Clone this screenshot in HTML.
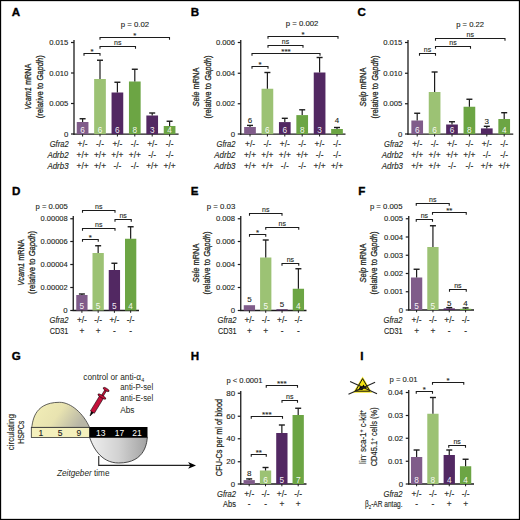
<!DOCTYPE html><html><head><meta charset="utf-8"><style>html,body{margin:0;padding:0;background:#fff;}svg{display:block;font-family:"Liberation Sans", sans-serif;}</style></head><body><svg width="520" height="520" viewBox="0 0 520 520" font-family='"Liberation Sans", sans-serif'>
<rect x="0" y="0" width="520" height="520" fill="#fff"/>
<rect x="0.5" y="0.5" width="519" height="519" fill="none" stroke="#000" stroke-width="1.3"/>
<text x="11.8" y="16.3" font-size="11.6" font-weight="bold" fill="#000" stroke="#000" stroke-width="0.35">A</text>
<text x="190.8" y="16.3" font-size="11.6" font-weight="bold" fill="#000" stroke="#000" stroke-width="0.35">B</text>
<text x="357.6" y="16.3" font-size="11.6" font-weight="bold" fill="#000" stroke="#000" stroke-width="0.35">C</text>
<text x="12" y="195.3" font-size="11.6" font-weight="bold" fill="#000" stroke="#000" stroke-width="0.35">D</text>
<text x="190.8" y="195.3" font-size="11.6" font-weight="bold" fill="#000" stroke="#000" stroke-width="0.35">E</text>
<text x="358.3" y="195.3" font-size="11.6" font-weight="bold" fill="#000" stroke="#000" stroke-width="0.35">F</text>
<text x="11.8" y="360.2" font-size="11.6" font-weight="bold" fill="#000" stroke="#000" stroke-width="0.35">G</text>
<text x="190.8" y="360.2" font-size="11.6" font-weight="bold" fill="#000" stroke="#000" stroke-width="0.35">H</text>
<text x="360.3" y="360.2" font-size="11.6" font-weight="bold" fill="#000" stroke="#000" stroke-width="0.35">I</text>
<line x1="74" y1="40" x2="74" y2="134.8" stroke="#1c1c1c" stroke-width="1.3"/>
<line x1="73.4" y1="134.2" x2="178.6" y2="134.2" stroke="#1c1c1c" stroke-width="1.3"/>
<line x1="71" y1="42.5" x2="74" y2="42.5" stroke="#1c1c1c" stroke-width="1.2"/>
<text x="68.4" y="45.05" font-size="7.8" text-anchor="end" fill="#231f20" stroke="#231f20" stroke-width="0.12" textLength="19.2" lengthAdjust="spacingAndGlyphs">0.015</text>
<line x1="71" y1="73" x2="74" y2="73" stroke="#1c1c1c" stroke-width="1.2"/>
<text x="68.4" y="75.55" font-size="7.8" text-anchor="end" fill="#231f20" stroke="#231f20" stroke-width="0.12" textLength="19.2" lengthAdjust="spacingAndGlyphs">0.010</text>
<line x1="71" y1="103.5" x2="74" y2="103.5" stroke="#1c1c1c" stroke-width="1.2"/>
<text x="68.4" y="106.05" font-size="7.8" text-anchor="end" fill="#231f20" stroke="#231f20" stroke-width="0.12" textLength="19.2" lengthAdjust="spacingAndGlyphs">0.005</text>
<line x1="71" y1="134" x2="74" y2="134" stroke="#1c1c1c" stroke-width="1.2"/>
<text x="68.4" y="136.55" font-size="7.8" text-anchor="end" fill="#231f20" stroke="#231f20" stroke-width="0.12">0</text>
<rect x="76.75" y="122" width="11.7" height="12.2" fill="#805c8a"/>
<line x1="82.6" y1="118.75" x2="82.6" y2="122" stroke="#1c1c1c" stroke-width="1.2"/>
<line x1="79.6" y1="118.75" x2="85.6" y2="118.75" stroke="#1c1c1c" stroke-width="1.4"/>
<line x1="82.6" y1="134.2" x2="82.6" y2="136.5" stroke="#1c1c1c" stroke-width="1.0"/>
<text x="82.6" y="132.7" font-size="8.3" text-anchor="middle" fill="#ffffff" fill-opacity="0.93">6</text>
<rect x="94.15" y="79" width="11.7" height="55.2" fill="#9cc274"/>
<line x1="100.0" y1="60.25" x2="100.0" y2="79" stroke="#1c1c1c" stroke-width="1.2"/>
<line x1="97.0" y1="60.25" x2="103.0" y2="60.25" stroke="#1c1c1c" stroke-width="1.4"/>
<line x1="100.0" y1="134.2" x2="100.0" y2="136.5" stroke="#1c1c1c" stroke-width="1.0"/>
<text x="100.0" y="132.7" font-size="8.3" text-anchor="middle" fill="#ffffff" fill-opacity="0.93">6</text>
<rect x="111.55" y="92.5" width="11.7" height="41.7" fill="#522862"/>
<line x1="117.4" y1="82.25" x2="117.4" y2="92.5" stroke="#1c1c1c" stroke-width="1.2"/>
<line x1="114.4" y1="82.25" x2="120.4" y2="82.25" stroke="#1c1c1c" stroke-width="1.4"/>
<line x1="117.4" y1="134.2" x2="117.4" y2="136.5" stroke="#1c1c1c" stroke-width="1.0"/>
<text x="117.4" y="132.7" font-size="8.3" text-anchor="middle" fill="#ffffff" fill-opacity="0.93">6</text>
<rect x="128.95" y="81.5" width="11.7" height="52.7" fill="#6ca544"/>
<line x1="134.8" y1="69.25" x2="134.8" y2="81.5" stroke="#1c1c1c" stroke-width="1.2"/>
<line x1="131.8" y1="69.25" x2="137.8" y2="69.25" stroke="#1c1c1c" stroke-width="1.4"/>
<line x1="134.8" y1="134.2" x2="134.8" y2="136.5" stroke="#1c1c1c" stroke-width="1.0"/>
<text x="134.8" y="132.7" font-size="8.3" text-anchor="middle" fill="#ffffff" fill-opacity="0.93">8</text>
<rect x="146.35" y="115.5" width="11.7" height="18.7" fill="#522862"/>
<line x1="152.2" y1="113" x2="152.2" y2="115.5" stroke="#1c1c1c" stroke-width="1.2"/>
<line x1="149.2" y1="113" x2="155.2" y2="113" stroke="#1c1c1c" stroke-width="1.4"/>
<line x1="152.2" y1="134.2" x2="152.2" y2="136.5" stroke="#1c1c1c" stroke-width="1.0"/>
<text x="152.2" y="132.7" font-size="8.3" text-anchor="middle" fill="#ffffff" fill-opacity="0.93">3</text>
<rect x="163.75" y="126" width="11.7" height="8.2" fill="#6ca544"/>
<line x1="169.6" y1="121.25" x2="169.6" y2="126" stroke="#1c1c1c" stroke-width="1.2"/>
<line x1="166.6" y1="121.25" x2="172.6" y2="121.25" stroke="#1c1c1c" stroke-width="1.4"/>
<line x1="169.6" y1="134.2" x2="169.6" y2="136.5" stroke="#1c1c1c" stroke-width="1.0"/>
<text x="169.6" y="132.7" font-size="8.3" text-anchor="middle" fill="#ffffff" fill-opacity="0.93">4</text>
<path d="M84 55.8 V53.5 H100 V55.8" fill="none" stroke="#1c1c1c" stroke-width="1.1"/>
<text x="92.0" y="53.7" font-size="7.9" text-anchor="middle" fill="#231f20" stroke="#231f20" stroke-width="0.12">*</text>
<path d="M100 48.8 V46.5 H135.5 V48.8" fill="none" stroke="#1c1c1c" stroke-width="1.1"/>
<text x="117.75" y="44.5" font-size="7.6" text-anchor="middle" fill="#231f20" stroke="#231f20" stroke-width="0.12" textLength="7.4" lengthAdjust="spacingAndGlyphs">ns</text>
<path d="M100 39.8 V37.5 H169.5 V39.8" fill="none" stroke="#1c1c1c" stroke-width="1.1"/>
<text x="134.75" y="37.7" font-size="7.9" text-anchor="middle" fill="#231f20" stroke="#231f20" stroke-width="0.12">*</text>
<text x="120.7" y="27.3" font-size="7.8" text-anchor="start" fill="#231f20" stroke="#231f20" stroke-width="0.12" textLength="28.4" lengthAdjust="spacingAndGlyphs">p = 0.02</text>
<text x="68.6" y="146.9" font-size="8.4" text-anchor="end" font-style="italic" fill="#231f20" stroke="#231f20" stroke-width="0.12" textLength="18.9" lengthAdjust="spacingAndGlyphs">Gfra2</text>
<text x="68.6" y="157.7" font-size="8.4" text-anchor="end" font-style="italic" fill="#231f20" stroke="#231f20" stroke-width="0.12" textLength="21.2" lengthAdjust="spacingAndGlyphs">Adrb2</text>
<text x="68.6" y="168.8" font-size="8.4" text-anchor="end" font-style="italic" fill="#231f20" stroke="#231f20" stroke-width="0.12" textLength="21.2" lengthAdjust="spacingAndGlyphs">Adrb3</text>
<text x="82.6" y="146.9" font-size="8.4" text-anchor="middle" fill="#231f20" stroke="#231f20" stroke-width="0.12">+/-</text>
<text x="100.0" y="146.9" font-size="8.4" text-anchor="middle" fill="#231f20" stroke="#231f20" stroke-width="0.12">-/-</text>
<text x="117.4" y="146.9" font-size="8.4" text-anchor="middle" fill="#231f20" stroke="#231f20" stroke-width="0.12">+/-</text>
<text x="134.8" y="146.9" font-size="8.4" text-anchor="middle" fill="#231f20" stroke="#231f20" stroke-width="0.12">-/-</text>
<text x="152.2" y="146.9" font-size="8.4" text-anchor="middle" fill="#231f20" stroke="#231f20" stroke-width="0.12">+/-</text>
<text x="169.6" y="146.9" font-size="8.4" text-anchor="middle" fill="#231f20" stroke="#231f20" stroke-width="0.12">-/-</text>
<text x="82.6" y="157.7" font-size="8.4" text-anchor="middle" fill="#231f20" stroke="#231f20" stroke-width="0.12">+/+</text>
<text x="100.0" y="157.7" font-size="8.4" text-anchor="middle" fill="#231f20" stroke="#231f20" stroke-width="0.12">+/+</text>
<text x="117.4" y="157.7" font-size="8.4" text-anchor="middle" fill="#231f20" stroke="#231f20" stroke-width="0.12">+/+</text>
<text x="134.8" y="157.7" font-size="8.4" text-anchor="middle" fill="#231f20" stroke="#231f20" stroke-width="0.12">+/+</text>
<text x="152.2" y="157.7" font-size="8.4" text-anchor="middle" fill="#231f20" stroke="#231f20" stroke-width="0.12">-/-</text>
<text x="169.6" y="157.7" font-size="8.4" text-anchor="middle" fill="#231f20" stroke="#231f20" stroke-width="0.12">-/-</text>
<text x="82.6" y="168.8" font-size="8.4" text-anchor="middle" fill="#231f20" stroke="#231f20" stroke-width="0.12">+/+</text>
<text x="100.0" y="168.8" font-size="8.4" text-anchor="middle" fill="#231f20" stroke="#231f20" stroke-width="0.12">+/+</text>
<text x="117.4" y="168.8" font-size="8.4" text-anchor="middle" fill="#231f20" stroke="#231f20" stroke-width="0.12">-/-</text>
<text x="134.8" y="168.8" font-size="8.4" text-anchor="middle" fill="#231f20" stroke="#231f20" stroke-width="0.12">-/-</text>
<text x="152.2" y="168.8" font-size="8.4" text-anchor="middle" fill="#231f20" stroke="#231f20" stroke-width="0.12">+/+</text>
<text x="169.6" y="168.8" font-size="8.4" text-anchor="middle" fill="#231f20" stroke="#231f20" stroke-width="0.12">+/+</text>
<text transform="translate(31.3,86.7) rotate(-90)" font-size="9.8" text-anchor="middle" fill="#231f20" stroke="#231f20" stroke-width="0.28" letter-spacing="0" textLength="46.3" lengthAdjust="spacingAndGlyphs"><tspan font-style="italic">Vcam1</tspan> mRNA</text>
<text transform="translate(43.1,86.7) rotate(-90)" font-size="9.8" text-anchor="middle" fill="#231f20" stroke="#231f20" stroke-width="0.28" letter-spacing="0" textLength="63" lengthAdjust="spacingAndGlyphs">(relative to <tspan font-style="italic">Gapdh</tspan>)</text>
<line x1="240.75" y1="40" x2="240.75" y2="134.8" stroke="#1c1c1c" stroke-width="1.3"/>
<line x1="240.15" y1="134.2" x2="345.5" y2="134.2" stroke="#1c1c1c" stroke-width="1.3"/>
<line x1="237.75" y1="42.5" x2="240.75" y2="42.5" stroke="#1c1c1c" stroke-width="1.2"/>
<text x="235.15" y="45.05" font-size="7.8" text-anchor="end" fill="#231f20" stroke="#231f20" stroke-width="0.12" textLength="19.2" lengthAdjust="spacingAndGlyphs">0.006</text>
<line x1="237.75" y1="73.25" x2="240.75" y2="73.25" stroke="#1c1c1c" stroke-width="1.2"/>
<text x="235.15" y="75.8" font-size="7.8" text-anchor="end" fill="#231f20" stroke="#231f20" stroke-width="0.12" textLength="19.2" lengthAdjust="spacingAndGlyphs">0.004</text>
<line x1="237.75" y1="103.75" x2="240.75" y2="103.75" stroke="#1c1c1c" stroke-width="1.2"/>
<text x="235.15" y="106.3" font-size="7.8" text-anchor="end" fill="#231f20" stroke="#231f20" stroke-width="0.12" textLength="19.2" lengthAdjust="spacingAndGlyphs">0.002</text>
<line x1="237.75" y1="134" x2="240.75" y2="134" stroke="#1c1c1c" stroke-width="1.2"/>
<text x="235.15" y="136.55" font-size="7.8" text-anchor="end" fill="#231f20" stroke="#231f20" stroke-width="0.12">0</text>
<rect x="244.15" y="127" width="11.7" height="7.2" fill="#805c8a"/>
<line x1="250.0" y1="125.4" x2="250.0" y2="127" stroke="#1c1c1c" stroke-width="1.2"/>
<line x1="247.0" y1="125.4" x2="253.0" y2="125.4" stroke="#1c1c1c" stroke-width="1.4"/>
<line x1="250.0" y1="134.2" x2="250.0" y2="136.5" stroke="#1c1c1c" stroke-width="1.0"/>
<text x="250.0" y="122.7" font-size="8.0" text-anchor="middle" fill="#231f20" stroke="#231f20" stroke-width="0.12">6</text>
<rect x="261.55" y="88.75" width="11.7" height="45.45" fill="#9cc274"/>
<line x1="267.4" y1="72.5" x2="267.4" y2="88.75" stroke="#1c1c1c" stroke-width="1.2"/>
<line x1="264.4" y1="72.5" x2="270.4" y2="72.5" stroke="#1c1c1c" stroke-width="1.4"/>
<line x1="267.4" y1="134.2" x2="267.4" y2="136.5" stroke="#1c1c1c" stroke-width="1.0"/>
<text x="267.4" y="132.7" font-size="8.3" text-anchor="middle" fill="#ffffff" fill-opacity="0.93">6</text>
<rect x="278.95" y="122.1" width="11.7" height="12.1" fill="#522862"/>
<line x1="284.8" y1="118.3" x2="284.8" y2="122.1" stroke="#1c1c1c" stroke-width="1.2"/>
<line x1="281.8" y1="118.3" x2="287.8" y2="118.3" stroke="#1c1c1c" stroke-width="1.4"/>
<line x1="284.8" y1="134.2" x2="284.8" y2="136.5" stroke="#1c1c1c" stroke-width="1.0"/>
<text x="284.8" y="132.7" font-size="8.3" text-anchor="middle" fill="#ffffff" fill-opacity="0.93">6</text>
<rect x="296.35" y="115.1" width="11.7" height="19.1" fill="#6ca544"/>
<line x1="302.2" y1="109.8" x2="302.2" y2="115.1" stroke="#1c1c1c" stroke-width="1.2"/>
<line x1="299.2" y1="109.8" x2="305.2" y2="109.8" stroke="#1c1c1c" stroke-width="1.4"/>
<line x1="302.2" y1="134.2" x2="302.2" y2="136.5" stroke="#1c1c1c" stroke-width="1.0"/>
<text x="302.2" y="132.7" font-size="8.3" text-anchor="middle" fill="#ffffff" fill-opacity="0.93">8</text>
<rect x="313.75" y="72.5" width="11.7" height="61.7" fill="#522862"/>
<line x1="319.6" y1="57.5" x2="319.6" y2="72.5" stroke="#1c1c1c" stroke-width="1.2"/>
<line x1="316.6" y1="57.5" x2="322.6" y2="57.5" stroke="#1c1c1c" stroke-width="1.4"/>
<line x1="319.6" y1="134.2" x2="319.6" y2="136.5" stroke="#1c1c1c" stroke-width="1.0"/>
<text x="319.6" y="132.7" font-size="8.3" text-anchor="middle" fill="#ffffff" fill-opacity="0.93">3</text>
<rect x="331.15" y="129" width="11.7" height="5.2" fill="#6ca544"/>
<line x1="337.0" y1="127.5" x2="337.0" y2="129" stroke="#1c1c1c" stroke-width="1.2"/>
<line x1="334.0" y1="127.5" x2="340.0" y2="127.5" stroke="#1c1c1c" stroke-width="1.4"/>
<line x1="337.0" y1="134.2" x2="337.0" y2="136.5" stroke="#1c1c1c" stroke-width="1.0"/>
<text x="337.0" y="122.7" font-size="8.0" text-anchor="middle" fill="#231f20" stroke="#231f20" stroke-width="0.12">4</text>
<path d="M252 68.8 V66.5 H268 V68.8" fill="none" stroke="#1c1c1c" stroke-width="1.1"/>
<text x="260.0" y="66.7" font-size="7.9" text-anchor="middle" fill="#231f20" stroke="#231f20" stroke-width="0.12">*</text>
<path d="M252 55.8 V53.5 H320 V55.8" fill="none" stroke="#1c1c1c" stroke-width="1.1"/>
<text x="286.0" y="53.7" font-size="7.9" text-anchor="middle" fill="#231f20" stroke="#231f20" stroke-width="0.12" textLength="9.6" lengthAdjust="spacingAndGlyphs">***</text>
<path d="M268 47.8 V45.5 H303 V47.8" fill="none" stroke="#1c1c1c" stroke-width="1.1"/>
<text x="285.5" y="43.5" font-size="7.6" text-anchor="middle" fill="#231f20" stroke="#231f20" stroke-width="0.12" textLength="7.4" lengthAdjust="spacingAndGlyphs">ns</text>
<path d="M268 38.8 V36.5 H338 V38.8" fill="none" stroke="#1c1c1c" stroke-width="1.1"/>
<text x="303.0" y="36.7" font-size="7.9" text-anchor="middle" fill="#231f20" stroke="#231f20" stroke-width="0.12">*</text>
<text x="285.8" y="25.8" font-size="7.8" text-anchor="start" fill="#231f20" stroke="#231f20" stroke-width="0.12" textLength="32.6" lengthAdjust="spacingAndGlyphs">p = 0.002</text>
<text x="235.5" y="146.9" font-size="8.4" text-anchor="end" font-style="italic" fill="#231f20" stroke="#231f20" stroke-width="0.12" textLength="18.9" lengthAdjust="spacingAndGlyphs">Gfra2</text>
<text x="235.5" y="157.7" font-size="8.4" text-anchor="end" font-style="italic" fill="#231f20" stroke="#231f20" stroke-width="0.12" textLength="21.2" lengthAdjust="spacingAndGlyphs">Adrb2</text>
<text x="235.5" y="168.8" font-size="8.4" text-anchor="end" font-style="italic" fill="#231f20" stroke="#231f20" stroke-width="0.12" textLength="21.2" lengthAdjust="spacingAndGlyphs">Adrb3</text>
<text x="250.0" y="146.9" font-size="8.4" text-anchor="middle" fill="#231f20" stroke="#231f20" stroke-width="0.12">+/-</text>
<text x="267.4" y="146.9" font-size="8.4" text-anchor="middle" fill="#231f20" stroke="#231f20" stroke-width="0.12">-/-</text>
<text x="284.8" y="146.9" font-size="8.4" text-anchor="middle" fill="#231f20" stroke="#231f20" stroke-width="0.12">+/-</text>
<text x="302.2" y="146.9" font-size="8.4" text-anchor="middle" fill="#231f20" stroke="#231f20" stroke-width="0.12">-/-</text>
<text x="319.6" y="146.9" font-size="8.4" text-anchor="middle" fill="#231f20" stroke="#231f20" stroke-width="0.12">+/-</text>
<text x="337.0" y="146.9" font-size="8.4" text-anchor="middle" fill="#231f20" stroke="#231f20" stroke-width="0.12">-/-</text>
<text x="250.0" y="157.7" font-size="8.4" text-anchor="middle" fill="#231f20" stroke="#231f20" stroke-width="0.12">+/+</text>
<text x="267.4" y="157.7" font-size="8.4" text-anchor="middle" fill="#231f20" stroke="#231f20" stroke-width="0.12">+/+</text>
<text x="284.8" y="157.7" font-size="8.4" text-anchor="middle" fill="#231f20" stroke="#231f20" stroke-width="0.12">+/+</text>
<text x="302.2" y="157.7" font-size="8.4" text-anchor="middle" fill="#231f20" stroke="#231f20" stroke-width="0.12">+/+</text>
<text x="319.6" y="157.7" font-size="8.4" text-anchor="middle" fill="#231f20" stroke="#231f20" stroke-width="0.12">-/-</text>
<text x="337.0" y="157.7" font-size="8.4" text-anchor="middle" fill="#231f20" stroke="#231f20" stroke-width="0.12">-/-</text>
<text x="250.0" y="168.8" font-size="8.4" text-anchor="middle" fill="#231f20" stroke="#231f20" stroke-width="0.12">+/+</text>
<text x="267.4" y="168.8" font-size="8.4" text-anchor="middle" fill="#231f20" stroke="#231f20" stroke-width="0.12">+/+</text>
<text x="284.8" y="168.8" font-size="8.4" text-anchor="middle" fill="#231f20" stroke="#231f20" stroke-width="0.12">-/-</text>
<text x="302.2" y="168.8" font-size="8.4" text-anchor="middle" fill="#231f20" stroke="#231f20" stroke-width="0.12">-/-</text>
<text x="319.6" y="168.8" font-size="8.4" text-anchor="middle" fill="#231f20" stroke="#231f20" stroke-width="0.12">+/+</text>
<text x="337.0" y="168.8" font-size="8.4" text-anchor="middle" fill="#231f20" stroke="#231f20" stroke-width="0.12">+/+</text>
<text transform="translate(199,87) rotate(-90)" font-size="9.8" text-anchor="middle" fill="#231f20" stroke="#231f20" stroke-width="0.28" letter-spacing="0" textLength="38.9" lengthAdjust="spacingAndGlyphs"><tspan font-style="italic">Sele</tspan> mRNA</text>
<text transform="translate(210.5,87) rotate(-90)" font-size="9.8" text-anchor="middle" fill="#231f20" stroke="#231f20" stroke-width="0.28" letter-spacing="0" textLength="63" lengthAdjust="spacingAndGlyphs">(relative to <tspan font-style="italic">Gapdh</tspan>)</text>
<line x1="408" y1="40" x2="408" y2="134.8" stroke="#1c1c1c" stroke-width="1.3"/>
<line x1="407.4" y1="134.2" x2="513.25" y2="134.2" stroke="#1c1c1c" stroke-width="1.3"/>
<line x1="405" y1="42.5" x2="408" y2="42.5" stroke="#1c1c1c" stroke-width="1.2"/>
<text x="402.4" y="45.05" font-size="7.8" text-anchor="end" fill="#231f20" stroke="#231f20" stroke-width="0.12" textLength="19.2" lengthAdjust="spacingAndGlyphs">0.015</text>
<line x1="405" y1="73.25" x2="408" y2="73.25" stroke="#1c1c1c" stroke-width="1.2"/>
<text x="402.4" y="75.8" font-size="7.8" text-anchor="end" fill="#231f20" stroke="#231f20" stroke-width="0.12" textLength="19.2" lengthAdjust="spacingAndGlyphs">0.010</text>
<line x1="405" y1="103.75" x2="408" y2="103.75" stroke="#1c1c1c" stroke-width="1.2"/>
<text x="402.4" y="106.3" font-size="7.8" text-anchor="end" fill="#231f20" stroke="#231f20" stroke-width="0.12" textLength="19.2" lengthAdjust="spacingAndGlyphs">0.005</text>
<line x1="405" y1="134" x2="408" y2="134" stroke="#1c1c1c" stroke-width="1.2"/>
<text x="402.4" y="136.55" font-size="7.8" text-anchor="end" fill="#231f20" stroke="#231f20" stroke-width="0.12">0</text>
<rect x="411.35" y="120.5" width="11.7" height="13.7" fill="#805c8a"/>
<line x1="417.2" y1="113.25" x2="417.2" y2="120.5" stroke="#1c1c1c" stroke-width="1.2"/>
<line x1="414.2" y1="113.25" x2="420.2" y2="113.25" stroke="#1c1c1c" stroke-width="1.4"/>
<line x1="417.2" y1="134.2" x2="417.2" y2="136.5" stroke="#1c1c1c" stroke-width="1.0"/>
<text x="417.2" y="132.7" font-size="8.3" text-anchor="middle" fill="#ffffff" fill-opacity="0.93">6</text>
<rect x="428.75" y="92" width="11.7" height="42.2" fill="#9cc274"/>
<line x1="434.6" y1="72" x2="434.6" y2="92" stroke="#1c1c1c" stroke-width="1.2"/>
<line x1="431.6" y1="72" x2="437.6" y2="72" stroke="#1c1c1c" stroke-width="1.4"/>
<line x1="434.6" y1="134.2" x2="434.6" y2="136.5" stroke="#1c1c1c" stroke-width="1.0"/>
<text x="434.6" y="132.7" font-size="8.3" text-anchor="middle" fill="#ffffff" fill-opacity="0.93">6</text>
<rect x="446.15" y="124.5" width="11.7" height="9.7" fill="#522862"/>
<line x1="452.0" y1="121.75" x2="452.0" y2="124.5" stroke="#1c1c1c" stroke-width="1.2"/>
<line x1="449.0" y1="121.75" x2="455.0" y2="121.75" stroke="#1c1c1c" stroke-width="1.4"/>
<line x1="452.0" y1="134.2" x2="452.0" y2="136.5" stroke="#1c1c1c" stroke-width="1.0"/>
<text x="452.0" y="132.7" font-size="8.3" text-anchor="middle" fill="#ffffff" fill-opacity="0.93">6</text>
<rect x="463.55" y="106.75" width="11.7" height="27.45" fill="#6ca544"/>
<line x1="469.4" y1="99.25" x2="469.4" y2="106.75" stroke="#1c1c1c" stroke-width="1.2"/>
<line x1="466.4" y1="99.25" x2="472.4" y2="99.25" stroke="#1c1c1c" stroke-width="1.4"/>
<line x1="469.4" y1="134.2" x2="469.4" y2="136.5" stroke="#1c1c1c" stroke-width="1.0"/>
<text x="469.4" y="132.7" font-size="8.3" text-anchor="middle" fill="#ffffff" fill-opacity="0.93">8</text>
<rect x="480.95" y="128.4" width="11.7" height="5.8" fill="#522862"/>
<line x1="486.8" y1="126.3" x2="486.8" y2="128.4" stroke="#1c1c1c" stroke-width="1.2"/>
<line x1="483.8" y1="126.3" x2="489.8" y2="126.3" stroke="#1c1c1c" stroke-width="1.4"/>
<line x1="486.8" y1="134.2" x2="486.8" y2="136.5" stroke="#1c1c1c" stroke-width="1.0"/>
<text x="486.8" y="123.5" font-size="8.0" text-anchor="middle" fill="#231f20" stroke="#231f20" stroke-width="0.12">3</text>
<rect x="498.35" y="119" width="11.7" height="15.2" fill="#6ca544"/>
<line x1="504.2" y1="112.7" x2="504.2" y2="119" stroke="#1c1c1c" stroke-width="1.2"/>
<line x1="501.2" y1="112.7" x2="507.2" y2="112.7" stroke="#1c1c1c" stroke-width="1.4"/>
<line x1="504.2" y1="134.2" x2="504.2" y2="136.5" stroke="#1c1c1c" stroke-width="1.0"/>
<text x="504.2" y="132.7" font-size="8.3" text-anchor="middle" fill="#ffffff" fill-opacity="0.93">4</text>
<path d="M419.5 55.8 V53.5 H435.5 V55.8" fill="none" stroke="#1c1c1c" stroke-width="1.1"/>
<text x="427.5" y="51.5" font-size="7.6" text-anchor="middle" fill="#231f20" stroke="#231f20" stroke-width="0.12" textLength="7.4" lengthAdjust="spacingAndGlyphs">ns</text>
<path d="M435.5 48.8 V46.5 H470.5 V48.8" fill="none" stroke="#1c1c1c" stroke-width="1.1"/>
<text x="453.0" y="44.5" font-size="7.6" text-anchor="middle" fill="#231f20" stroke="#231f20" stroke-width="0.12" textLength="7.4" lengthAdjust="spacingAndGlyphs">ns</text>
<path d="M435.5 40.8 V38.5 H505 V40.8" fill="none" stroke="#1c1c1c" stroke-width="1.1"/>
<text x="470.25" y="36.5" font-size="7.6" text-anchor="middle" fill="#231f20" stroke="#231f20" stroke-width="0.12" textLength="7.4" lengthAdjust="spacingAndGlyphs">ns</text>
<text x="456.2" y="27.1" font-size="7.8" text-anchor="start" fill="#231f20" stroke="#231f20" stroke-width="0.12" textLength="27.8" lengthAdjust="spacingAndGlyphs">p = 0.22</text>
<text x="403" y="146.9" font-size="8.4" text-anchor="end" font-style="italic" fill="#231f20" stroke="#231f20" stroke-width="0.12" textLength="18.9" lengthAdjust="spacingAndGlyphs">Gfra2</text>
<text x="403" y="157.7" font-size="8.4" text-anchor="end" font-style="italic" fill="#231f20" stroke="#231f20" stroke-width="0.12" textLength="21.2" lengthAdjust="spacingAndGlyphs">Adrb2</text>
<text x="403" y="168.8" font-size="8.4" text-anchor="end" font-style="italic" fill="#231f20" stroke="#231f20" stroke-width="0.12" textLength="21.2" lengthAdjust="spacingAndGlyphs">Adrb3</text>
<text x="417.2" y="146.9" font-size="8.4" text-anchor="middle" fill="#231f20" stroke="#231f20" stroke-width="0.12">+/-</text>
<text x="434.6" y="146.9" font-size="8.4" text-anchor="middle" fill="#231f20" stroke="#231f20" stroke-width="0.12">-/-</text>
<text x="452.0" y="146.9" font-size="8.4" text-anchor="middle" fill="#231f20" stroke="#231f20" stroke-width="0.12">+/-</text>
<text x="469.4" y="146.9" font-size="8.4" text-anchor="middle" fill="#231f20" stroke="#231f20" stroke-width="0.12">-/-</text>
<text x="486.8" y="146.9" font-size="8.4" text-anchor="middle" fill="#231f20" stroke="#231f20" stroke-width="0.12">+/-</text>
<text x="504.2" y="146.9" font-size="8.4" text-anchor="middle" fill="#231f20" stroke="#231f20" stroke-width="0.12">-/-</text>
<text x="417.2" y="157.7" font-size="8.4" text-anchor="middle" fill="#231f20" stroke="#231f20" stroke-width="0.12">+/+</text>
<text x="434.6" y="157.7" font-size="8.4" text-anchor="middle" fill="#231f20" stroke="#231f20" stroke-width="0.12">+/+</text>
<text x="452.0" y="157.7" font-size="8.4" text-anchor="middle" fill="#231f20" stroke="#231f20" stroke-width="0.12">+/+</text>
<text x="469.4" y="157.7" font-size="8.4" text-anchor="middle" fill="#231f20" stroke="#231f20" stroke-width="0.12">+/+</text>
<text x="486.8" y="157.7" font-size="8.4" text-anchor="middle" fill="#231f20" stroke="#231f20" stroke-width="0.12">-/-</text>
<text x="504.2" y="157.7" font-size="8.4" text-anchor="middle" fill="#231f20" stroke="#231f20" stroke-width="0.12">-/-</text>
<text x="417.2" y="168.8" font-size="8.4" text-anchor="middle" fill="#231f20" stroke="#231f20" stroke-width="0.12">+/+</text>
<text x="434.6" y="168.8" font-size="8.4" text-anchor="middle" fill="#231f20" stroke="#231f20" stroke-width="0.12">+/+</text>
<text x="452.0" y="168.8" font-size="8.4" text-anchor="middle" fill="#231f20" stroke="#231f20" stroke-width="0.12">-/-</text>
<text x="469.4" y="168.8" font-size="8.4" text-anchor="middle" fill="#231f20" stroke="#231f20" stroke-width="0.12">-/-</text>
<text x="486.8" y="168.8" font-size="8.4" text-anchor="middle" fill="#231f20" stroke="#231f20" stroke-width="0.12">+/+</text>
<text x="504.2" y="168.8" font-size="8.4" text-anchor="middle" fill="#231f20" stroke="#231f20" stroke-width="0.12">+/+</text>
<text transform="translate(366.4,87) rotate(-90)" font-size="9.8" text-anchor="middle" fill="#231f20" stroke="#231f20" stroke-width="0.28" letter-spacing="0" textLength="38.9" lengthAdjust="spacingAndGlyphs"><tspan font-style="italic">Selp</tspan> mRNA</text>
<text transform="translate(378,87) rotate(-90)" font-size="9.8" text-anchor="middle" fill="#231f20" stroke="#231f20" stroke-width="0.28" letter-spacing="0" textLength="63" lengthAdjust="spacingAndGlyphs">(relative to <tspan font-style="italic">Gapdh</tspan>)</text>
<line x1="73.25" y1="216" x2="73.25" y2="311.1" stroke="#1c1c1c" stroke-width="1.3"/>
<line x1="72.65" y1="310.5" x2="139" y2="310.5" stroke="#1c1c1c" stroke-width="1.3"/>
<line x1="70.25" y1="218.75" x2="73.25" y2="218.75" stroke="#1c1c1c" stroke-width="1.2"/>
<text x="67.65" y="221.3" font-size="7.8" text-anchor="end" fill="#231f20" stroke="#231f20" stroke-width="0.12" textLength="27.1" lengthAdjust="spacingAndGlyphs">0.00008</text>
<line x1="70.25" y1="241.5" x2="73.25" y2="241.5" stroke="#1c1c1c" stroke-width="1.2"/>
<text x="67.65" y="244.05" font-size="7.8" text-anchor="end" fill="#231f20" stroke="#231f20" stroke-width="0.12" textLength="27.1" lengthAdjust="spacingAndGlyphs">0.00006</text>
<line x1="70.25" y1="264.5" x2="73.25" y2="264.5" stroke="#1c1c1c" stroke-width="1.2"/>
<text x="67.65" y="267.05" font-size="7.8" text-anchor="end" fill="#231f20" stroke="#231f20" stroke-width="0.12" textLength="27.1" lengthAdjust="spacingAndGlyphs">0.00004</text>
<line x1="70.25" y1="287.5" x2="73.25" y2="287.5" stroke="#1c1c1c" stroke-width="1.2"/>
<text x="67.65" y="290.05" font-size="7.8" text-anchor="end" fill="#231f20" stroke="#231f20" stroke-width="0.12" textLength="27.1" lengthAdjust="spacingAndGlyphs">0.00002</text>
<line x1="70.25" y1="310.5" x2="73.25" y2="310.5" stroke="#1c1c1c" stroke-width="1.2"/>
<text x="67.65" y="313.05" font-size="7.8" text-anchor="end" fill="#231f20" stroke="#231f20" stroke-width="0.12">0</text>
<rect x="76.25" y="295" width="11.3" height="15.5" fill="#805c8a"/>
<line x1="81.9" y1="294" x2="81.9" y2="295" stroke="#1c1c1c" stroke-width="1.2"/>
<line x1="78.9" y1="294" x2="84.9" y2="294" stroke="#1c1c1c" stroke-width="1.4"/>
<line x1="81.9" y1="310.5" x2="81.9" y2="312.8" stroke="#1c1c1c" stroke-width="1.0"/>
<text x="81.9" y="309.0" font-size="8.3" text-anchor="middle" fill="#ffffff" fill-opacity="0.93">5</text>
<rect x="92.5" y="253" width="11.3" height="57.5" fill="#9cc274"/>
<line x1="98.15" y1="245.75" x2="98.15" y2="253" stroke="#1c1c1c" stroke-width="1.2"/>
<line x1="95.15" y1="245.75" x2="101.15" y2="245.75" stroke="#1c1c1c" stroke-width="1.4"/>
<line x1="98.15" y1="310.5" x2="98.15" y2="312.8" stroke="#1c1c1c" stroke-width="1.0"/>
<text x="98.15" y="309.0" font-size="8.3" text-anchor="middle" fill="#ffffff" fill-opacity="0.93">5</text>
<rect x="108.75" y="270" width="11.3" height="40.5" fill="#522862"/>
<line x1="114.4" y1="263.25" x2="114.4" y2="270" stroke="#1c1c1c" stroke-width="1.2"/>
<line x1="111.4" y1="263.25" x2="117.4" y2="263.25" stroke="#1c1c1c" stroke-width="1.4"/>
<line x1="114.4" y1="310.5" x2="114.4" y2="312.8" stroke="#1c1c1c" stroke-width="1.0"/>
<text x="114.4" y="309.0" font-size="8.3" text-anchor="middle" fill="#ffffff" fill-opacity="0.93">5</text>
<rect x="125.0" y="238.75" width="11.3" height="71.75" fill="#6ca544"/>
<line x1="130.65" y1="226.75" x2="130.65" y2="238.75" stroke="#1c1c1c" stroke-width="1.2"/>
<line x1="127.65" y1="226.75" x2="133.65" y2="226.75" stroke="#1c1c1c" stroke-width="1.4"/>
<line x1="130.65" y1="310.5" x2="130.65" y2="312.8" stroke="#1c1c1c" stroke-width="1.0"/>
<text x="130.65" y="309.0" font-size="8.3" text-anchor="middle" fill="#ffffff" fill-opacity="0.93">4</text>
<path d="M82.5 241.8 V239.5 H98.25 V241.8" fill="none" stroke="#1c1c1c" stroke-width="1.1"/>
<text x="90.38" y="239.7" font-size="7.9" text-anchor="middle" fill="#231f20" stroke="#231f20" stroke-width="0.12">*</text>
<path d="M82.5 230.8 V228.5 H115 V230.8" fill="none" stroke="#1c1c1c" stroke-width="1.1"/>
<text x="98.75" y="226.5" font-size="7.6" text-anchor="middle" fill="#231f20" stroke="#231f20" stroke-width="0.12" textLength="7.4" lengthAdjust="spacingAndGlyphs">ns</text>
<path d="M115 221.8 V219.5 H131.25 V221.8" fill="none" stroke="#1c1c1c" stroke-width="1.1"/>
<text x="123.12" y="217.5" font-size="7.6" text-anchor="middle" fill="#231f20" stroke="#231f20" stroke-width="0.12" textLength="7.4" lengthAdjust="spacingAndGlyphs">ns</text>
<path d="M82.5 212.8 V210.5 H115 V212.8" fill="none" stroke="#1c1c1c" stroke-width="1.1"/>
<text x="98.75" y="208.5" font-size="7.6" text-anchor="middle" fill="#231f20" stroke="#231f20" stroke-width="0.12" textLength="7.4" lengthAdjust="spacingAndGlyphs">ns</text>
<text x="35.5" y="208.6" font-size="7.8" text-anchor="start" fill="#231f20" stroke="#231f20" stroke-width="0.12" textLength="32.3" lengthAdjust="spacingAndGlyphs">p = 0.005</text>
<text x="68.4" y="323" font-size="8.4" text-anchor="end" font-style="italic" fill="#231f20" stroke="#231f20" stroke-width="0.12" textLength="18.9" lengthAdjust="spacingAndGlyphs">Gfra2</text>
<text x="68.4" y="334" font-size="8.4" text-anchor="end" fill="#231f20" stroke="#231f20" stroke-width="0.12" textLength="18.6" lengthAdjust="spacingAndGlyphs">CD31</text>
<text x="81.9" y="323" font-size="8.4" text-anchor="middle" fill="#231f20" stroke="#231f20" stroke-width="0.12">+/-</text>
<text x="98.15" y="323" font-size="8.4" text-anchor="middle" fill="#231f20" stroke="#231f20" stroke-width="0.12">-/-</text>
<text x="114.4" y="323" font-size="8.4" text-anchor="middle" fill="#231f20" stroke="#231f20" stroke-width="0.12">+/-</text>
<text x="130.65" y="323" font-size="8.4" text-anchor="middle" fill="#231f20" stroke="#231f20" stroke-width="0.12">-/-</text>
<text x="81.9" y="334" font-size="8.4" text-anchor="middle" fill="#231f20" stroke="#231f20" stroke-width="0.12">+</text>
<text x="98.15" y="334" font-size="8.4" text-anchor="middle" fill="#231f20" stroke="#231f20" stroke-width="0.12">+</text>
<text x="114.4" y="334" font-size="8.4" text-anchor="middle" fill="#231f20" stroke="#231f20" stroke-width="0.12">-</text>
<text x="130.65" y="334" font-size="8.4" text-anchor="middle" fill="#231f20" stroke="#231f20" stroke-width="0.12">-</text>
<text transform="translate(23.8,262.5) rotate(-90)" font-size="9.8" text-anchor="middle" fill="#231f20" stroke="#231f20" stroke-width="0.28" letter-spacing="0" textLength="46.3" lengthAdjust="spacingAndGlyphs"><tspan font-style="italic">Vcam1</tspan> mRNA</text>
<text transform="translate(35.0,262.5) rotate(-90)" font-size="9.8" text-anchor="middle" fill="#231f20" stroke="#231f20" stroke-width="0.28" letter-spacing="0" textLength="63" lengthAdjust="spacingAndGlyphs">(relative to <tspan font-style="italic">Gapdh</tspan>)</text>
<line x1="240.75" y1="216" x2="240.75" y2="311.1" stroke="#1c1c1c" stroke-width="1.3"/>
<line x1="240.15" y1="310.5" x2="306.5" y2="310.5" stroke="#1c1c1c" stroke-width="1.3"/>
<line x1="237.75" y1="218.75" x2="240.75" y2="218.75" stroke="#1c1c1c" stroke-width="1.2"/>
<text x="235.15" y="221.3" font-size="7.8" text-anchor="end" fill="#231f20" stroke="#231f20" stroke-width="0.12" textLength="19.2" lengthAdjust="spacingAndGlyphs">0.008</text>
<line x1="237.75" y1="241.5" x2="240.75" y2="241.5" stroke="#1c1c1c" stroke-width="1.2"/>
<text x="235.15" y="244.05" font-size="7.8" text-anchor="end" fill="#231f20" stroke="#231f20" stroke-width="0.12" textLength="19.2" lengthAdjust="spacingAndGlyphs">0.006</text>
<line x1="237.75" y1="264.5" x2="240.75" y2="264.5" stroke="#1c1c1c" stroke-width="1.2"/>
<text x="235.15" y="267.05" font-size="7.8" text-anchor="end" fill="#231f20" stroke="#231f20" stroke-width="0.12" textLength="19.2" lengthAdjust="spacingAndGlyphs">0.004</text>
<line x1="237.75" y1="287.5" x2="240.75" y2="287.5" stroke="#1c1c1c" stroke-width="1.2"/>
<text x="235.15" y="290.05" font-size="7.8" text-anchor="end" fill="#231f20" stroke="#231f20" stroke-width="0.12" textLength="19.2" lengthAdjust="spacingAndGlyphs">0.002</text>
<line x1="237.75" y1="310.5" x2="240.75" y2="310.5" stroke="#1c1c1c" stroke-width="1.2"/>
<text x="235.15" y="313.05" font-size="7.8" text-anchor="end" fill="#231f20" stroke="#231f20" stroke-width="0.12">0</text>
<rect x="243.75" y="305.2" width="11.3" height="5.3" fill="#805c8a"/>
<line x1="249.4" y1="310.5" x2="249.4" y2="312.8" stroke="#1c1c1c" stroke-width="1.0"/>
<text x="249.4" y="301.5" font-size="8.0" text-anchor="middle" fill="#231f20" stroke="#231f20" stroke-width="0.12">5</text>
<rect x="260.08" y="257.5" width="11.3" height="53.0" fill="#9cc274"/>
<line x1="265.73" y1="240" x2="265.73" y2="257.5" stroke="#1c1c1c" stroke-width="1.2"/>
<line x1="262.73" y1="240" x2="268.73" y2="240" stroke="#1c1c1c" stroke-width="1.4"/>
<line x1="265.73" y1="310.5" x2="265.73" y2="312.8" stroke="#1c1c1c" stroke-width="1.0"/>
<text x="265.73" y="309.0" font-size="8.3" text-anchor="middle" fill="#ffffff" fill-opacity="0.93">5</text>
<rect x="276.41" y="309.3" width="11.3" height="1.2" fill="#522862"/>
<line x1="282.06" y1="310.5" x2="282.06" y2="312.8" stroke="#1c1c1c" stroke-width="1.0"/>
<text x="282.06" y="306.8" font-size="8.0" text-anchor="middle" fill="#231f20" stroke="#231f20" stroke-width="0.12">5</text>
<rect x="292.74" y="288.75" width="11.3" height="21.75" fill="#6ca544"/>
<line x1="298.39" y1="268.75" x2="298.39" y2="288.75" stroke="#1c1c1c" stroke-width="1.2"/>
<line x1="295.39" y1="268.75" x2="301.39" y2="268.75" stroke="#1c1c1c" stroke-width="1.4"/>
<line x1="298.39" y1="310.5" x2="298.39" y2="312.8" stroke="#1c1c1c" stroke-width="1.0"/>
<text x="298.39" y="309.0" font-size="8.3" text-anchor="middle" fill="#ffffff" fill-opacity="0.93">4</text>
<path d="M249.5 215.8 V213.5 H282 V215.8" fill="none" stroke="#1c1c1c" stroke-width="1.1"/>
<text x="265.75" y="211.5" font-size="7.6" text-anchor="middle" fill="#231f20" stroke="#231f20" stroke-width="0.12" textLength="7.4" lengthAdjust="spacingAndGlyphs">ns</text>
<path d="M265.75 229.8 V227.5 H298.75 V229.8" fill="none" stroke="#1c1c1c" stroke-width="1.1"/>
<text x="282.25" y="225.5" font-size="7.6" text-anchor="middle" fill="#231f20" stroke="#231f20" stroke-width="0.12" textLength="7.4" lengthAdjust="spacingAndGlyphs">ns</text>
<path d="M249.5 236.8 V234.5 H265.75 V236.8" fill="none" stroke="#1c1c1c" stroke-width="1.1"/>
<text x="257.62" y="234.7" font-size="7.9" text-anchor="middle" fill="#231f20" stroke="#231f20" stroke-width="0.12">*</text>
<path d="M282 265.8 V263.5 H298.75 V265.8" fill="none" stroke="#1c1c1c" stroke-width="1.1"/>
<text x="290.38" y="261.5" font-size="7.6" text-anchor="middle" fill="#231f20" stroke="#231f20" stroke-width="0.12" textLength="7.4" lengthAdjust="spacingAndGlyphs">ns</text>
<text x="206.8" y="208.8" font-size="7.8" text-anchor="start" fill="#231f20" stroke="#231f20" stroke-width="0.12" textLength="28.5" lengthAdjust="spacingAndGlyphs">p = 0.03</text>
<text x="236.5" y="323" font-size="8.4" text-anchor="end" font-style="italic" fill="#231f20" stroke="#231f20" stroke-width="0.12" textLength="18.9" lengthAdjust="spacingAndGlyphs">Gfra2</text>
<text x="236.5" y="334" font-size="8.4" text-anchor="end" fill="#231f20" stroke="#231f20" stroke-width="0.12" textLength="18.6" lengthAdjust="spacingAndGlyphs">CD31</text>
<text x="249.4" y="323" font-size="8.4" text-anchor="middle" fill="#231f20" stroke="#231f20" stroke-width="0.12">+/-</text>
<text x="265.73" y="323" font-size="8.4" text-anchor="middle" fill="#231f20" stroke="#231f20" stroke-width="0.12">-/-</text>
<text x="282.06" y="323" font-size="8.4" text-anchor="middle" fill="#231f20" stroke="#231f20" stroke-width="0.12">+/-</text>
<text x="298.39" y="323" font-size="8.4" text-anchor="middle" fill="#231f20" stroke="#231f20" stroke-width="0.12">-/-</text>
<text x="249.4" y="334" font-size="8.4" text-anchor="middle" fill="#231f20" stroke="#231f20" stroke-width="0.12">+</text>
<text x="265.73" y="334" font-size="8.4" text-anchor="middle" fill="#231f20" stroke="#231f20" stroke-width="0.12">+</text>
<text x="282.06" y="334" font-size="8.4" text-anchor="middle" fill="#231f20" stroke="#231f20" stroke-width="0.12">-</text>
<text x="298.39" y="334" font-size="8.4" text-anchor="middle" fill="#231f20" stroke="#231f20" stroke-width="0.12">-</text>
<text transform="translate(198.5,263) rotate(-90)" font-size="9.8" text-anchor="middle" fill="#231f20" stroke="#231f20" stroke-width="0.28" letter-spacing="0" textLength="38.9" lengthAdjust="spacingAndGlyphs"><tspan font-style="italic">Sele</tspan> mRNA</text>
<text transform="translate(210.2,263) rotate(-90)" font-size="9.8" text-anchor="middle" fill="#231f20" stroke="#231f20" stroke-width="0.28" letter-spacing="0" textLength="63" lengthAdjust="spacingAndGlyphs">(relative to <tspan font-style="italic">Gapdh</tspan>)</text>
<line x1="408.75" y1="216" x2="408.75" y2="310.6" stroke="#1c1c1c" stroke-width="1.3"/>
<line x1="408.15" y1="310" x2="474" y2="310" stroke="#1c1c1c" stroke-width="1.3"/>
<line x1="405.75" y1="218.75" x2="408.75" y2="218.75" stroke="#1c1c1c" stroke-width="1.2"/>
<text x="403.15" y="221.3" font-size="7.8" text-anchor="end" fill="#231f20" stroke="#231f20" stroke-width="0.12" textLength="19.2" lengthAdjust="spacingAndGlyphs">0.005</text>
<line x1="405.75" y1="237" x2="408.75" y2="237" stroke="#1c1c1c" stroke-width="1.2"/>
<text x="403.15" y="239.55" font-size="7.8" text-anchor="end" fill="#231f20" stroke="#231f20" stroke-width="0.12" textLength="19.2" lengthAdjust="spacingAndGlyphs">0.004</text>
<line x1="405.75" y1="255.25" x2="408.75" y2="255.25" stroke="#1c1c1c" stroke-width="1.2"/>
<text x="403.15" y="257.8" font-size="7.8" text-anchor="end" fill="#231f20" stroke="#231f20" stroke-width="0.12" textLength="19.2" lengthAdjust="spacingAndGlyphs">0.003</text>
<line x1="405.75" y1="273.5" x2="408.75" y2="273.5" stroke="#1c1c1c" stroke-width="1.2"/>
<text x="403.15" y="276.05" font-size="7.8" text-anchor="end" fill="#231f20" stroke="#231f20" stroke-width="0.12" textLength="19.2" lengthAdjust="spacingAndGlyphs">0.002</text>
<line x1="405.75" y1="291.75" x2="408.75" y2="291.75" stroke="#1c1c1c" stroke-width="1.2"/>
<text x="403.15" y="294.3" font-size="7.8" text-anchor="end" fill="#231f20" stroke="#231f20" stroke-width="0.12" textLength="19.2" lengthAdjust="spacingAndGlyphs">0.001</text>
<line x1="405.75" y1="310" x2="408.75" y2="310" stroke="#1c1c1c" stroke-width="1.2"/>
<text x="403.15" y="312.55" font-size="7.8" text-anchor="end" fill="#231f20" stroke="#231f20" stroke-width="0.12">0</text>
<rect x="410.95" y="277.5" width="11.3" height="32.5" fill="#805c8a"/>
<line x1="416.6" y1="269.25" x2="416.6" y2="277.5" stroke="#1c1c1c" stroke-width="1.2"/>
<line x1="413.6" y1="269.25" x2="419.6" y2="269.25" stroke="#1c1c1c" stroke-width="1.4"/>
<line x1="416.6" y1="310" x2="416.6" y2="312.3" stroke="#1c1c1c" stroke-width="1.0"/>
<text x="416.6" y="308.5" font-size="8.3" text-anchor="middle" fill="#ffffff" fill-opacity="0.93">5</text>
<rect x="427.28" y="247" width="11.3" height="63" fill="#9cc274"/>
<line x1="432.93" y1="225.75" x2="432.93" y2="247" stroke="#1c1c1c" stroke-width="1.2"/>
<line x1="429.93" y1="225.75" x2="435.93" y2="225.75" stroke="#1c1c1c" stroke-width="1.4"/>
<line x1="432.93" y1="310" x2="432.93" y2="312.3" stroke="#1c1c1c" stroke-width="1.0"/>
<text x="432.93" y="308.5" font-size="8.3" text-anchor="middle" fill="#ffffff" fill-opacity="0.93">5</text>
<rect x="443.61" y="308.4" width="11.3" height="1.6" fill="#522862"/>
<line x1="449.26" y1="307.6" x2="449.26" y2="308.4" stroke="#1c1c1c" stroke-width="1.2"/>
<line x1="446.26" y1="307.6" x2="452.26" y2="307.6" stroke="#1c1c1c" stroke-width="1.4"/>
<line x1="449.26" y1="310" x2="449.26" y2="312.3" stroke="#1c1c1c" stroke-width="1.0"/>
<text x="449.26" y="305.6" font-size="8.0" text-anchor="middle" fill="#231f20" stroke="#231f20" stroke-width="0.12">5</text>
<rect x="459.94" y="308.8" width="11.3" height="1.2" fill="#6ca544"/>
<line x1="465.59" y1="307.9" x2="465.59" y2="308.8" stroke="#1c1c1c" stroke-width="1.2"/>
<line x1="462.59" y1="307.9" x2="468.59" y2="307.9" stroke="#1c1c1c" stroke-width="1.4"/>
<line x1="465.59" y1="310" x2="465.59" y2="312.3" stroke="#1c1c1c" stroke-width="1.0"/>
<text x="465.59" y="305.6" font-size="8.0" text-anchor="middle" fill="#231f20" stroke="#231f20" stroke-width="0.12">4</text>
<path d="M416.25 205.8 V203.5 H449.25 V205.8" fill="none" stroke="#1c1c1c" stroke-width="1.1"/>
<text x="432.75" y="201.5" font-size="7.6" text-anchor="middle" fill="#231f20" stroke="#231f20" stroke-width="0.12" textLength="7.4" lengthAdjust="spacingAndGlyphs">ns</text>
<path d="M432.5 214.8 V212.5 H466.25 V214.8" fill="none" stroke="#1c1c1c" stroke-width="1.1"/>
<text x="449.38" y="212.7" font-size="7.9" text-anchor="middle" fill="#231f20" stroke="#231f20" stroke-width="0.12" textLength="6.2" lengthAdjust="spacingAndGlyphs">**</text>
<path d="M416.25 221.8 V219.5 H432.5 V221.8" fill="none" stroke="#1c1c1c" stroke-width="1.1"/>
<text x="424.38" y="217.5" font-size="7.6" text-anchor="middle" fill="#231f20" stroke="#231f20" stroke-width="0.12" textLength="7.4" lengthAdjust="spacingAndGlyphs">ns</text>
<path d="M449.5 291.8 V289.5 H466.25 V291.8" fill="none" stroke="#1c1c1c" stroke-width="1.1"/>
<text x="457.88" y="287.5" font-size="7.6" text-anchor="middle" fill="#231f20" stroke="#231f20" stroke-width="0.12" textLength="7.4" lengthAdjust="spacingAndGlyphs">ns</text>
<text x="369.9" y="208.8" font-size="7.8" text-anchor="start" fill="#231f20" stroke="#231f20" stroke-width="0.12" textLength="32.6" lengthAdjust="spacingAndGlyphs">p = 0.005</text>
<text x="402.5" y="323" font-size="8.4" text-anchor="end" font-style="italic" fill="#231f20" stroke="#231f20" stroke-width="0.12" textLength="18.9" lengthAdjust="spacingAndGlyphs">Gfra2</text>
<text x="402.5" y="334" font-size="8.4" text-anchor="end" fill="#231f20" stroke="#231f20" stroke-width="0.12" textLength="18.6" lengthAdjust="spacingAndGlyphs">CD31</text>
<text x="416.6" y="323" font-size="8.4" text-anchor="middle" fill="#231f20" stroke="#231f20" stroke-width="0.12">+/-</text>
<text x="432.93" y="323" font-size="8.4" text-anchor="middle" fill="#231f20" stroke="#231f20" stroke-width="0.12">-/-</text>
<text x="449.26" y="323" font-size="8.4" text-anchor="middle" fill="#231f20" stroke="#231f20" stroke-width="0.12">+/-</text>
<text x="465.59" y="323" font-size="8.4" text-anchor="middle" fill="#231f20" stroke="#231f20" stroke-width="0.12">-/-</text>
<text x="416.6" y="334" font-size="8.4" text-anchor="middle" fill="#231f20" stroke="#231f20" stroke-width="0.12">+</text>
<text x="432.93" y="334" font-size="8.4" text-anchor="middle" fill="#231f20" stroke="#231f20" stroke-width="0.12">+</text>
<text x="449.26" y="334" font-size="8.4" text-anchor="middle" fill="#231f20" stroke="#231f20" stroke-width="0.12">-</text>
<text x="465.59" y="334" font-size="8.4" text-anchor="middle" fill="#231f20" stroke="#231f20" stroke-width="0.12">-</text>
<text transform="translate(366,263) rotate(-90)" font-size="9.8" text-anchor="middle" fill="#231f20" stroke="#231f20" stroke-width="0.28" letter-spacing="0" textLength="38.9" lengthAdjust="spacingAndGlyphs"><tspan font-style="italic">Selp</tspan> mRNA</text>
<text transform="translate(377.0,263) rotate(-90)" font-size="9.8" text-anchor="middle" fill="#231f20" stroke="#231f20" stroke-width="0.28" letter-spacing="0" textLength="63" lengthAdjust="spacingAndGlyphs">(relative to <tspan font-style="italic">Gapdh</tspan>)</text>
<line x1="240.75" y1="391" x2="240.75" y2="484.6" stroke="#1c1c1c" stroke-width="1.3"/>
<line x1="240.15" y1="484" x2="306.5" y2="484" stroke="#1c1c1c" stroke-width="1.3"/>
<line x1="237.75" y1="393.25" x2="240.75" y2="393.25" stroke="#1c1c1c" stroke-width="1.2"/>
<text x="235.15" y="395.8" font-size="7.8" text-anchor="end" fill="#231f20" stroke="#231f20" stroke-width="0.12" textLength="8.9" lengthAdjust="spacingAndGlyphs">80</text>
<line x1="237.75" y1="416.25" x2="240.75" y2="416.25" stroke="#1c1c1c" stroke-width="1.2"/>
<text x="235.15" y="418.8" font-size="7.8" text-anchor="end" fill="#231f20" stroke="#231f20" stroke-width="0.12" textLength="8.9" lengthAdjust="spacingAndGlyphs">60</text>
<line x1="237.75" y1="438.75" x2="240.75" y2="438.75" stroke="#1c1c1c" stroke-width="1.2"/>
<text x="235.15" y="441.3" font-size="7.8" text-anchor="end" fill="#231f20" stroke="#231f20" stroke-width="0.12" textLength="8.9" lengthAdjust="spacingAndGlyphs">40</text>
<line x1="237.75" y1="461.75" x2="240.75" y2="461.75" stroke="#1c1c1c" stroke-width="1.2"/>
<text x="235.15" y="464.3" font-size="7.8" text-anchor="end" fill="#231f20" stroke="#231f20" stroke-width="0.12" textLength="8.9" lengthAdjust="spacingAndGlyphs">20</text>
<line x1="237.75" y1="484" x2="240.75" y2="484" stroke="#1c1c1c" stroke-width="1.2"/>
<text x="235.15" y="486.55" font-size="7.8" text-anchor="end" fill="#231f20" stroke="#231f20" stroke-width="0.12">0</text>
<rect x="243.55" y="480.1" width="11.3" height="3.9" fill="#805c8a"/>
<line x1="249.2" y1="478.9" x2="249.2" y2="480.1" stroke="#1c1c1c" stroke-width="1.2"/>
<line x1="246.2" y1="478.9" x2="252.2" y2="478.9" stroke="#1c1c1c" stroke-width="1.4"/>
<line x1="249.2" y1="484" x2="249.2" y2="486.3" stroke="#1c1c1c" stroke-width="1.0"/>
<text x="249.2" y="475.8" font-size="8.0" text-anchor="middle" fill="#231f20" stroke="#231f20" stroke-width="0.12">8</text>
<rect x="259.88" y="470.5" width="11.3" height="13.5" fill="#9cc274"/>
<line x1="265.53" y1="467.5" x2="265.53" y2="470.5" stroke="#1c1c1c" stroke-width="1.2"/>
<line x1="262.53" y1="467.5" x2="268.53" y2="467.5" stroke="#1c1c1c" stroke-width="1.4"/>
<line x1="265.53" y1="484" x2="265.53" y2="486.3" stroke="#1c1c1c" stroke-width="1.0"/>
<text x="265.53" y="482.5" font-size="8.3" text-anchor="middle" fill="#ffffff" fill-opacity="0.93">6</text>
<rect x="276.21" y="433" width="11.3" height="51" fill="#522862"/>
<line x1="281.86" y1="425" x2="281.86" y2="433" stroke="#1c1c1c" stroke-width="1.2"/>
<line x1="278.86" y1="425" x2="284.86" y2="425" stroke="#1c1c1c" stroke-width="1.4"/>
<line x1="281.86" y1="484" x2="281.86" y2="486.3" stroke="#1c1c1c" stroke-width="1.0"/>
<text x="281.86" y="482.5" font-size="8.3" text-anchor="middle" fill="#ffffff" fill-opacity="0.93">5</text>
<rect x="292.54" y="415" width="11.3" height="69" fill="#6ca544"/>
<line x1="298.19" y1="408.25" x2="298.19" y2="415" stroke="#1c1c1c" stroke-width="1.2"/>
<line x1="295.19" y1="408.25" x2="301.19" y2="408.25" stroke="#1c1c1c" stroke-width="1.4"/>
<line x1="298.19" y1="484" x2="298.19" y2="486.3" stroke="#1c1c1c" stroke-width="1.0"/>
<text x="298.19" y="482.5" font-size="8.3" text-anchor="middle" fill="#ffffff" fill-opacity="0.93">7</text>
<path d="M266.25 387.8 V385.5 H297.5 V387.8" fill="none" stroke="#1c1c1c" stroke-width="1.1"/>
<text x="281.88" y="385.7" font-size="7.9" text-anchor="middle" fill="#231f20" stroke="#231f20" stroke-width="0.12" textLength="9.6" lengthAdjust="spacingAndGlyphs">***</text>
<path d="M282 402.8 V400.5 H297.5 V402.8" fill="none" stroke="#1c1c1c" stroke-width="1.1"/>
<text x="289.75" y="398.5" font-size="7.6" text-anchor="middle" fill="#231f20" stroke="#231f20" stroke-width="0.12" textLength="7.4" lengthAdjust="spacingAndGlyphs">ns</text>
<path d="M251.25 418.8 V416.5 H282.5 V418.8" fill="none" stroke="#1c1c1c" stroke-width="1.1"/>
<text x="266.88" y="416.7" font-size="7.9" text-anchor="middle" fill="#231f20" stroke="#231f20" stroke-width="0.12" textLength="9.6" lengthAdjust="spacingAndGlyphs">***</text>
<path d="M251.25 456.8 V454.5 H266.25 V456.8" fill="none" stroke="#1c1c1c" stroke-width="1.1"/>
<text x="258.75" y="454.7" font-size="7.9" text-anchor="middle" fill="#231f20" stroke="#231f20" stroke-width="0.12" textLength="6.2" lengthAdjust="spacingAndGlyphs">**</text>
<text x="226.5" y="382.6" font-size="7.8" text-anchor="start" fill="#231f20" stroke="#231f20" stroke-width="0.12" textLength="36" lengthAdjust="spacingAndGlyphs">p &lt; 0.0001</text>
<text x="236.0" y="496.6" font-size="8.4" text-anchor="end" font-style="italic" fill="#231f20" stroke="#231f20" stroke-width="0.12" textLength="18.9" lengthAdjust="spacingAndGlyphs">Gfra2</text>
<text x="236.0" y="507.4" font-size="8.4" text-anchor="end" fill="#231f20" stroke="#231f20" stroke-width="0.12" textLength="12.9" lengthAdjust="spacingAndGlyphs">Abs</text>
<text x="249.2" y="496.6" font-size="8.4" text-anchor="middle" fill="#231f20" stroke="#231f20" stroke-width="0.12">+/-</text>
<text x="265.53" y="496.6" font-size="8.4" text-anchor="middle" fill="#231f20" stroke="#231f20" stroke-width="0.12">-/-</text>
<text x="281.86" y="496.6" font-size="8.4" text-anchor="middle" fill="#231f20" stroke="#231f20" stroke-width="0.12">+/-</text>
<text x="298.19" y="496.6" font-size="8.4" text-anchor="middle" fill="#231f20" stroke="#231f20" stroke-width="0.12">-/-</text>
<text x="249.2" y="507.4" font-size="8.4" text-anchor="middle" fill="#231f20" stroke="#231f20" stroke-width="0.12">-</text>
<text x="265.53" y="507.4" font-size="8.4" text-anchor="middle" fill="#231f20" stroke="#231f20" stroke-width="0.12">-</text>
<text x="281.86" y="507.4" font-size="8.4" text-anchor="middle" fill="#231f20" stroke="#231f20" stroke-width="0.12">+</text>
<text x="298.19" y="507.4" font-size="8.4" text-anchor="middle" fill="#231f20" stroke="#231f20" stroke-width="0.12">+</text>
<text transform="translate(221.6,437.5) rotate(-90)" font-size="9.8" text-anchor="middle" fill="#231f20" stroke="#231f20" stroke-width="0.28" letter-spacing="0" textLength="77.3" lengthAdjust="spacingAndGlyphs">CFU-Cs per ml of blood</text>
<line x1="408.75" y1="390" x2="408.75" y2="484.6" stroke="#1c1c1c" stroke-width="1.3"/>
<line x1="408.15" y1="484" x2="474" y2="484" stroke="#1c1c1c" stroke-width="1.3"/>
<line x1="405.75" y1="392.5" x2="408.75" y2="392.5" stroke="#1c1c1c" stroke-width="1.2"/>
<text x="403.15" y="395.05" font-size="7.8" text-anchor="end" fill="#231f20" stroke="#231f20" stroke-width="0.12" textLength="15.1" lengthAdjust="spacingAndGlyphs">0.04</text>
<line x1="405.75" y1="415.5" x2="408.75" y2="415.5" stroke="#1c1c1c" stroke-width="1.2"/>
<text x="403.15" y="418.05" font-size="7.8" text-anchor="end" fill="#231f20" stroke="#231f20" stroke-width="0.12" textLength="15.1" lengthAdjust="spacingAndGlyphs">0.03</text>
<line x1="405.75" y1="438.25" x2="408.75" y2="438.25" stroke="#1c1c1c" stroke-width="1.2"/>
<text x="403.15" y="440.8" font-size="7.8" text-anchor="end" fill="#231f20" stroke="#231f20" stroke-width="0.12" textLength="15.1" lengthAdjust="spacingAndGlyphs">0.02</text>
<line x1="405.75" y1="461.25" x2="408.75" y2="461.25" stroke="#1c1c1c" stroke-width="1.2"/>
<text x="403.15" y="463.8" font-size="7.8" text-anchor="end" fill="#231f20" stroke="#231f20" stroke-width="0.12" textLength="15.1" lengthAdjust="spacingAndGlyphs">0.01</text>
<line x1="405.75" y1="484" x2="408.75" y2="484" stroke="#1c1c1c" stroke-width="1.2"/>
<text x="403.15" y="486.55" font-size="7.8" text-anchor="end" fill="#231f20" stroke="#231f20" stroke-width="0.12">0</text>
<rect x="410.95" y="457" width="11.3" height="27" fill="#805c8a"/>
<line x1="416.6" y1="450" x2="416.6" y2="457" stroke="#1c1c1c" stroke-width="1.2"/>
<line x1="413.6" y1="450" x2="419.6" y2="450" stroke="#1c1c1c" stroke-width="1.4"/>
<line x1="416.6" y1="484" x2="416.6" y2="486.3" stroke="#1c1c1c" stroke-width="1.0"/>
<text x="416.6" y="482.5" font-size="8.3" text-anchor="middle" fill="#ffffff" fill-opacity="0.93">8</text>
<rect x="427.28" y="413.75" width="11.3" height="70.25" fill="#9cc274"/>
<line x1="432.93" y1="397.5" x2="432.93" y2="413.75" stroke="#1c1c1c" stroke-width="1.2"/>
<line x1="429.93" y1="397.5" x2="435.93" y2="397.5" stroke="#1c1c1c" stroke-width="1.4"/>
<line x1="432.93" y1="484" x2="432.93" y2="486.3" stroke="#1c1c1c" stroke-width="1.0"/>
<text x="432.93" y="482.5" font-size="8.3" text-anchor="middle" fill="#ffffff" fill-opacity="0.93">8</text>
<rect x="443.61" y="455" width="11.3" height="29" fill="#522862"/>
<line x1="449.26" y1="450" x2="449.26" y2="455" stroke="#1c1c1c" stroke-width="1.2"/>
<line x1="446.26" y1="450" x2="452.26" y2="450" stroke="#1c1c1c" stroke-width="1.4"/>
<line x1="449.26" y1="484" x2="449.26" y2="486.3" stroke="#1c1c1c" stroke-width="1.0"/>
<text x="449.26" y="482.5" font-size="8.3" text-anchor="middle" fill="#ffffff" fill-opacity="0.93">4</text>
<rect x="459.94" y="466.25" width="11.3" height="17.75" fill="#6ca544"/>
<line x1="465.59" y1="459.25" x2="465.59" y2="466.25" stroke="#1c1c1c" stroke-width="1.2"/>
<line x1="462.59" y1="459.25" x2="468.59" y2="459.25" stroke="#1c1c1c" stroke-width="1.4"/>
<line x1="465.59" y1="484" x2="465.59" y2="486.3" stroke="#1c1c1c" stroke-width="1.0"/>
<text x="465.59" y="482.5" font-size="8.3" text-anchor="middle" fill="#ffffff" fill-opacity="0.93">4</text>
<path d="M432.5 384.8 V382.5 H463.75 V384.8" fill="none" stroke="#1c1c1c" stroke-width="1.1"/>
<text x="448.12" y="382.7" font-size="7.9" text-anchor="middle" fill="#231f20" stroke="#231f20" stroke-width="0.12">*</text>
<path d="M416.25 393.8 V391.5 H432.5 V393.8" fill="none" stroke="#1c1c1c" stroke-width="1.1"/>
<text x="424.38" y="391.7" font-size="7.9" text-anchor="middle" fill="#231f20" stroke="#231f20" stroke-width="0.12">*</text>
<path d="M448.75 447.8 V445.5 H465.5 V447.8" fill="none" stroke="#1c1c1c" stroke-width="1.1"/>
<text x="457.12" y="443.5" font-size="7.6" text-anchor="middle" fill="#231f20" stroke="#231f20" stroke-width="0.12" textLength="7.4" lengthAdjust="spacingAndGlyphs">ns</text>
<text x="389.5" y="382.4" font-size="7.8" text-anchor="start" fill="#231f20" stroke="#231f20" stroke-width="0.12" textLength="28" lengthAdjust="spacingAndGlyphs">p = 0.01</text>
<text x="402.5" y="496.6" font-size="8.4" text-anchor="end" font-style="italic" fill="#231f20" stroke="#231f20" stroke-width="0.12" textLength="18.9" lengthAdjust="spacingAndGlyphs">Gfra2</text>
<text x="402.5" y="507.4" font-size="8.4" text-anchor="end" fill="#231f20" stroke="#231f20" stroke-width="0.12" textLength="37.5" lengthAdjust="spacingAndGlyphs">β<tspan font-size="5.5" dy="2">2</tspan><tspan dy="-2">-AR antag.</tspan></text>
<text x="416.6" y="496.6" font-size="8.4" text-anchor="middle" fill="#231f20" stroke="#231f20" stroke-width="0.12">+/-</text>
<text x="432.93" y="496.6" font-size="8.4" text-anchor="middle" fill="#231f20" stroke="#231f20" stroke-width="0.12">-/-</text>
<text x="449.26" y="496.6" font-size="8.4" text-anchor="middle" fill="#231f20" stroke="#231f20" stroke-width="0.12">+/-</text>
<text x="465.59" y="496.6" font-size="8.4" text-anchor="middle" fill="#231f20" stroke="#231f20" stroke-width="0.12">-/-</text>
<text x="416.6" y="507.4" font-size="8.4" text-anchor="middle" fill="#231f20" stroke="#231f20" stroke-width="0.12">-</text>
<text x="432.93" y="507.4" font-size="8.4" text-anchor="middle" fill="#231f20" stroke="#231f20" stroke-width="0.12">-</text>
<text x="449.26" y="507.4" font-size="8.4" text-anchor="middle" fill="#231f20" stroke="#231f20" stroke-width="0.12">+</text>
<text x="465.59" y="507.4" font-size="8.4" text-anchor="middle" fill="#231f20" stroke="#231f20" stroke-width="0.12">+</text>
<text transform="translate(365.8,436.8) rotate(-90)" font-size="8.8" text-anchor="middle" fill="#231f20" stroke="#231f20" stroke-width="0.18" letter-spacing="0" textLength="54.2" lengthAdjust="spacingAndGlyphs">lin<tspan font-size="5.5" dy="-3">-</tspan><tspan dy="3"> sca-1</tspan><tspan font-size="5.5" dy="-3">+</tspan><tspan dy="3"> c-kit</tspan><tspan font-size="5.5" dy="-3">+</tspan></text>
<text transform="translate(376.5,436.8) rotate(-90)" font-size="8.8" text-anchor="middle" fill="#231f20" stroke="#231f20" stroke-width="0.18" letter-spacing="0" textLength="59" lengthAdjust="spacingAndGlyphs">CD45.1<tspan font-size="5.5" dy="-3">+</tspan><tspan dy="3"> cells (%)</tspan></text>
<polygon points="362.6,376.4 353.0,392.8 372.2,392.8" fill="#f5e627"/>
<polygon points="362.6,378.6 355.3,391.2 369.9,391.2" fill="#f3e311" stroke="#111" stroke-width="1.0" stroke-linejoin="miter"/>
<path d="M358.4 389.6 L360.6 386.0 L362.0 386.8 L363.6 384.6 L364.6 386.4 L366.6 385.8 L365.4 388.0 L363.4 388.2 L362.4 390.0 Z" fill="#000"/>
<path d="M357.2 390.0 L366.8 387.4" stroke="#000" stroke-width="0.7"/>
<line x1="350.1" y1="381.5" x2="377" y2="393.7" stroke="#222" stroke-width="1.1"/>
<line x1="348.5" y1="394.3" x2="375.1" y2="382.3" stroke="#222" stroke-width="1.1"/>
<defs><linearGradient id="gy" x1="0" y1="0" x2="1" y2="0.3"><stop offset="0" stop-color="#f3efb8"/><stop offset="0.55" stop-color="#e8e3b0"/><stop offset="1" stop-color="#b8b6a6"/></linearGradient><linearGradient id="gg" x1="0" y1="0" x2="1" y2="0"><stop offset="0" stop-color="#efefef"/><stop offset="0.5" stop-color="#d2d2d2"/><stop offset="1" stop-color="#a2a2a2"/></linearGradient></defs>
<path d="M31.6 427.4 C32.9 424.3 32.1 402.3 59.5 402.3 C71.3 402.3 83.9 414.2 89.5 427.4 Z" fill="url(#gy)" stroke="#3a3a3a" stroke-width="0.8"/>
<path d="M89.6 437.3 C92.4 445.5 100 463 118.7 463 C146.6 463 146.8 440.5 147.4 437.3 Z" fill="url(#gg)" stroke="#2a2a2a" stroke-width="0.85"/>
<rect x="31.3" y="427.5" width="58.2" height="10" fill="#f4f0bd"/>
<rect x="31.3" y="427.5" width="58.2" height="10" fill="none" stroke="#333" stroke-width="0.8"/>
<rect x="89.5" y="427" width="58" height="10.5" fill="#000"/>
<text x="40.75" y="435.8" font-size="8.5" text-anchor="middle" fill="#222" stroke="#222" stroke-width="0.12">1</text>
<text x="60" y="435.8" font-size="8.5" text-anchor="middle" fill="#222" stroke="#222" stroke-width="0.12">5</text>
<text x="78.75" y="435.8" font-size="8.5" text-anchor="middle" fill="#222" stroke="#222" stroke-width="0.12">9</text>
<text x="100.75" y="435.8" font-size="8.5" text-anchor="middle" fill="#fff">13</text>
<text x="119.5" y="435.8" font-size="8.5" text-anchor="middle" fill="#fff">17</text>
<text x="137" y="435.8" font-size="8.5" text-anchor="middle" fill="#fff">21</text>
<path d="M98.75 456 V465.4 H191" fill="none" stroke="#222" stroke-width="1.1"/>
<path d="M188.1 462 L196 465.4 L188.1 468.8 L190.2 465.4 Z" fill="#000"/>
<text x="57" y="476" font-size="8.5" text-anchor="start" fill="#231f20" textLength="52.5" lengthAdjust="spacingAndGlyphs"><tspan font-style="italic">Zeitgeber</tspan> time</text>
<text transform="translate(14.2,432.2) rotate(-90)" font-size="8.3" text-anchor="middle" fill="#231f20" stroke="#231f20" stroke-width="0.15" letter-spacing="0" textLength="36.2" lengthAdjust="spacingAndGlyphs">circulating</text>
<text transform="translate(24,432.2) rotate(-90)" font-size="8.3" text-anchor="middle" fill="#231f20" stroke="#231f20" stroke-width="0.15" letter-spacing="0" textLength="23.2" lengthAdjust="spacingAndGlyphs">HSPCs</text>
<text x="83.3" y="379.5" font-size="8.3" text-anchor="start" fill="#231f20">control or anti-α<tspan font-size="5.5" dy="2">4</tspan></text>
<text x="120.2" y="390" font-size="8.3" text-anchor="start" fill="#231f20" textLength="33" lengthAdjust="spacingAndGlyphs">anti-P-sel</text>
<text x="120.2" y="401.3" font-size="8.3" text-anchor="start" fill="#231f20" textLength="33" lengthAdjust="spacingAndGlyphs">anti-E-sel</text>
<text x="120.2" y="412.5" font-size="8.3" text-anchor="start" fill="#231f20">Abs</text>
<g transform="translate(90,416) rotate(-58.6)" stroke="#000" stroke-width="0.5"><polygon points="0,0 4.8,-1.3 4.8,1.3" fill="#000"/><rect x="4.6" y="-2.3" width="17.6" height="4.6" fill="#c3113a"/><rect x="23" y="-1" width="7.4" height="2" fill="#c3113a"/><ellipse cx="22.8" cy="0" rx="1.3" ry="4.6" fill="#c3113a"/><ellipse cx="31" cy="0" rx="1.3" ry="3.4" fill="#c3113a"/></g>
</svg></body></html>
